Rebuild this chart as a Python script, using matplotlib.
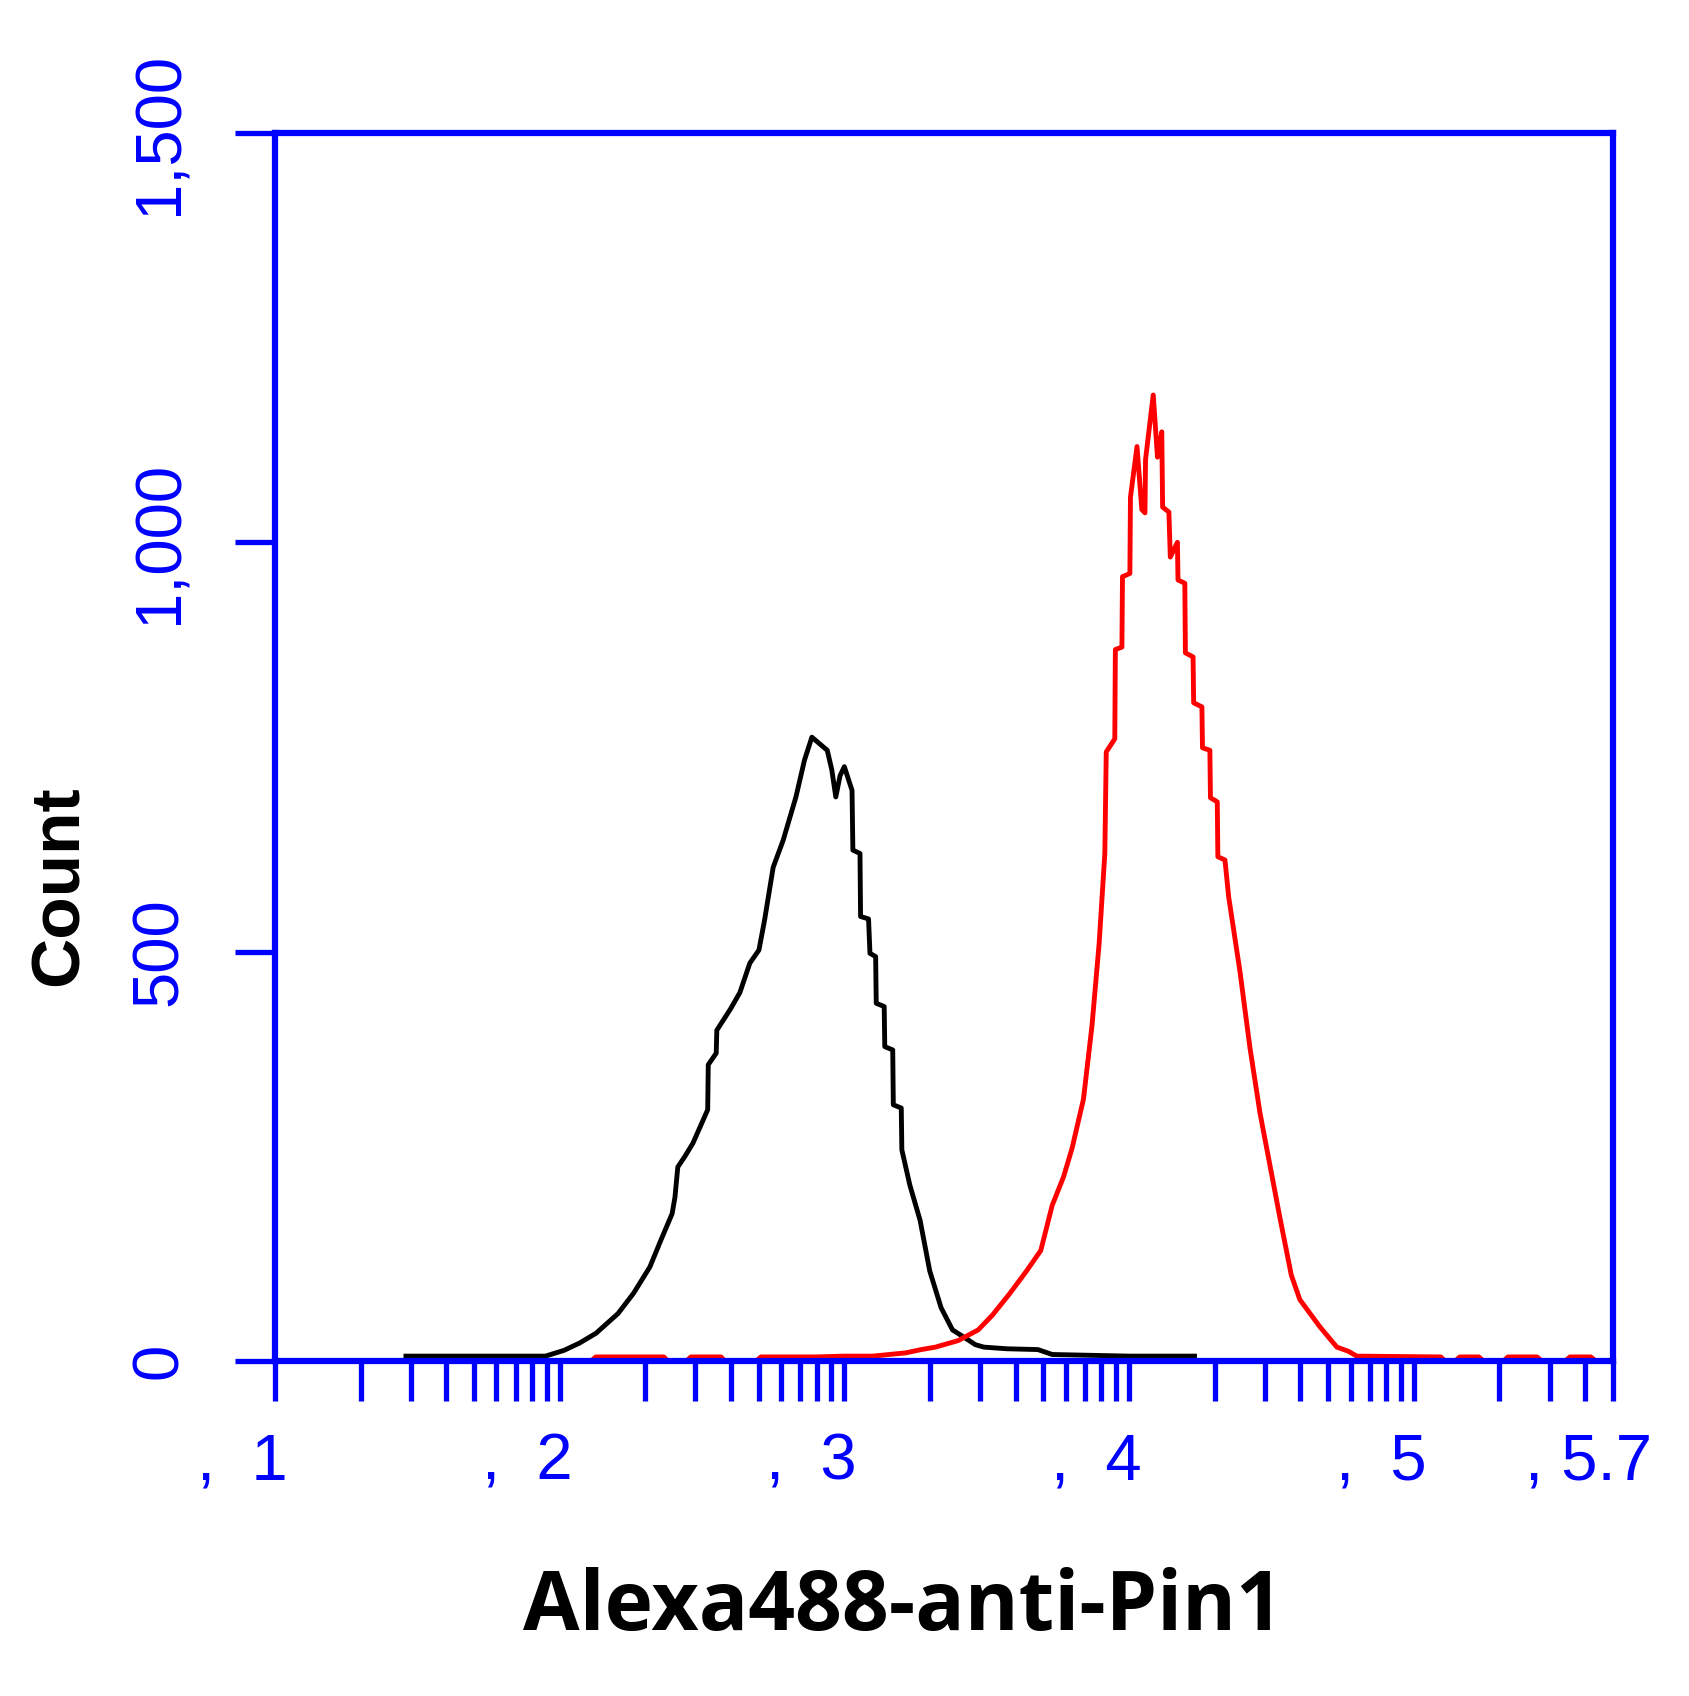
import matplotlib
matplotlib.use('Agg')
import matplotlib.pyplot as plt
import matplotlib.transforms as mtransforms
import numpy as np

# decade positions (log10 of intensity) and counts
control_log = [1.46, 1.95, 2.015, 2.07, 2.128, 2.205, 2.26, 2.317, 2.356, 2.395, 2.405,
               2.415, 2.44, 2.468, 2.52, 2.522, 2.55, 2.552, 2.60, 2.633, 2.668, 2.70,
               2.72, 2.75, 2.785, 2.83, 2.86, 2.886, 2.94, 2.956, 2.97, 2.985, 3.00,
               3.027, 3.03, 3.055, 3.057, 3.085, 3.09, 3.11, 3.112, 3.14, 3.142, 3.17,
               3.172, 3.20, 3.202, 3.23, 3.266, 3.30, 3.34, 3.38, 3.434, 3.46, 3.49,
               3.57, 3.68, 3.73, 4.0, 4.23]
control_count = [6, 6, 13, 22, 34, 58, 83, 115, 148, 180, 200,
                 237, 250, 266, 307, 362, 376, 404, 430, 450, 486, 502,
                 539, 603, 636, 689, 734, 762, 746, 722, 689, 715, 726,
                 697, 624, 620, 543, 540, 498, 494, 437, 433, 384, 380,
                 313, 309, 258, 215, 172, 110, 65, 38, 26, 20, 17,
                 15, 14, 8, 6, 6]

pin1_log = [2.11, 2.127, 2.366, 2.38, 2.445, 2.461, 2.567, 2.58, 2.69, 2.707, 2.9, 3.0,
            3.1, 3.216, 3.27, 3.32, 3.40, 3.47, 3.52, 3.58, 3.64, 3.69, 3.73, 3.77,
            3.80, 3.84, 3.87, 3.895, 3.915, 3.92, 3.95, 3.952, 3.975, 3.977, 4.003,
            4.005, 4.028, 4.045, 4.056, 4.058, 4.085, 4.10, 4.115, 4.118, 4.14, 4.145,
            4.17, 4.172, 4.196, 4.198, 4.225, 4.227, 4.256, 4.258, 4.284, 4.286, 4.31,
            4.312, 4.337, 4.35, 4.39, 4.425, 4.46, 4.50, 4.53, 4.57, 4.60, 4.67, 4.73,
            4.77, 4.80, 5.095, 5.11, 5.145, 5.162, 5.229, 5.245, 5.315, 5.331, 5.433,
            5.45, 5.532, 5.549, 5.622, 5.64]
pin1_count = [0, 5, 5, 0, 0, 5, 5, 0, 0, 5, 5, 6,
              6, 10, 14, 17, 25, 38, 56, 82, 110, 135, 190, 225,
              260, 320, 410, 510, 620, 744, 760, 869, 872, 958, 962,
              1055, 1117, 1040, 1036, 1101, 1180, 1104, 1135, 1043, 1037, 982,
              1000, 954, 950, 865, 860, 804, 799, 749, 746, 688, 683,
              616, 612, 567, 475, 382, 303, 230, 175, 105, 75, 42, 17,
              12, 6, 5, 0, 0, 5, 5, 0, 0, 5, 5,
              0, 0, 5, 5, 0]

y_ticks = [0, 500, 1000, 1500]
y_ticklabels = ['0', '500', '1,000', '1,500']
x_decades = [1, 2, 3, 4, 5, 5.7]
x_ticklabels = [',  1', ',  2', ',  3', ',  4', ',  5', ', 5.7']

blue = '#0000ff'
tick_font = ['Liberation Sans', 'DejaVu Sans']

fig = plt.figure(figsize=(16.89, 16.96), dpi=100)
ax = fig.add_axes([0.1628, 0.1975, 0.7922, 0.7241])

ax.plot(np.power(10.0, control_log), control_count, color='black', lw=3.5)
ax.plot(np.power(10.0, pin1_log), pin1_count, color='#ff0000', lw=3.5)

ax.set_xscale('log')
ax.set_xlim(10 ** 1, 10 ** 5.7)
ax.set_ylim(0, 1500)

for s in ax.spines.values():
    s.set_color(blue)
    s.set_linewidth(4.5)

ax.set_yticks(y_ticks)
ax.set_yticklabels(y_ticklabels, rotation=90, va='center', color=blue,
                   fontsize=47, family=tick_font)
ax.tick_params(axis='y', length=29, width=3.8, color=blue, pad=32)

ax.xaxis.set_major_locator(matplotlib.ticker.LogLocator(base=10, numticks=10))
ax.xaxis.set_minor_locator(matplotlib.ticker.LogLocator(base=10, subs=np.arange(2, 10), numticks=20))
ax.xaxis.set_major_formatter(matplotlib.ticker.NullFormatter())
ax.xaxis.set_minor_formatter(matplotlib.ticker.NullFormatter())
ax.tick_params(axis='x', which='both', length=29, width=3.8, color=blue)

# the x labels: digit centred under the decade tick
trans = mtransforms.blended_transform_factory(ax.transData, ax.transAxes)
for d, lab in zip(x_decades, x_ticklabels):
    shift = 9 if d != 5.7 else 28
    t = mtransforms.offset_copy(trans, fig=fig, x=shift, y=0, units='points')
    ax.text(10 ** d, -0.058, lab, transform=t, ha='right', va='top',
            color=blue, fontsize=47, family=tick_font)

fig.text(0.0355, 0.478, 'Count', rotation=90, ha='center', va='center',
         fontsize=50, fontweight='bold', family=['Liberation Sans', 'DejaVu Sans'])
fig.text(0.5346, 0.0389, 'Alexa488-anti-Pin1', ha='center', va='baseline',
         fontsize=59, fontweight='bold', family=['Open Sans', 'DejaVu Sans'])

fig.savefig('out.png', dpi=100, facecolor='white')
